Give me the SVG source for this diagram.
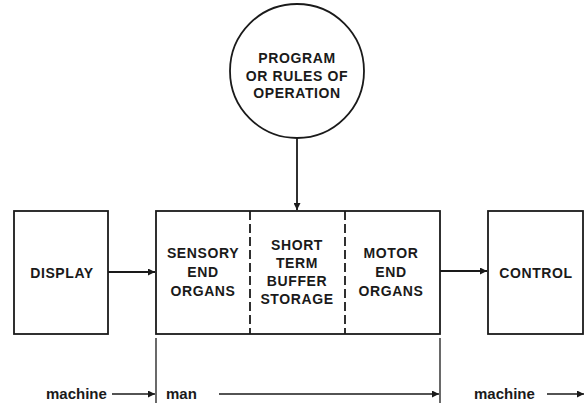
<svg xmlns="http://www.w3.org/2000/svg" width="587" height="403" viewBox="0 0 587 403">
<style>
.ln{stroke:#1a1a1a;stroke-width:1.8;fill:none}
.th{stroke:#1a1a1a;stroke-width:1.3;fill:none}
.dash{stroke:#1a1a1a;stroke-width:1.8;stroke-dasharray:9 4;fill:none}
.t{font-family:"Liberation Sans",Arial,sans-serif;font-weight:bold;font-size:14px;fill:#1a1a1a;text-anchor:middle;letter-spacing:0.6px}
.lo{font-family:"Liberation Sans",Arial,sans-serif;font-weight:bold;font-size:15px;fill:#1a1a1a}
</style>
<defs>
<marker id="ah" viewBox="0 0 10 10" refX="10" refY="5" markerWidth="7" markerHeight="7" markerUnits="userSpaceOnUse" orient="auto">
<path d="M0,0 L10,5 L0,10 z" fill="#1a1a1a"/>
</marker>
</defs>
<rect width="587" height="403" fill="#fff"/>
<g id="program">
<circle class="ln" cx="297" cy="71" r="67"/>
<text class="t" x="297" y="63">PROGRAM</text>
<text class="t" x="297" y="81">OR RULES OF</text>
<text class="t" x="297" y="98">OPERATION</text>
</g>
<g id="display">
<rect class="ln" x="14" y="211" width="94" height="123"/>
<text class="t" x="62" y="278">DISPLAY</text>
</g>
<g id="man">
<rect class="ln" x="156" y="211" width="284" height="123"/>
<line class="dash" x1="250" y1="211" x2="250" y2="334"/>
<line class="dash" x1="345" y1="211" x2="345" y2="334"/>
</g>
<g id="sensory">
<text class="t" x="203" y="258">SENSORY</text>
<text class="t" x="203" y="277">END</text>
<text class="t" x="203" y="296">ORGANS</text>
</g>
<g id="buffer">
<text class="t" x="297" y="250">SHORT</text>
<text class="t" x="297" y="268">TERM</text>
<text class="t" x="297" y="286">BUFFER</text>
<text class="t" x="297" y="304">STORAGE</text>
</g>
<g id="motor">
<text class="t" x="391" y="258">MOTOR</text>
<text class="t" x="391" y="277">END</text>
<text class="t" x="391" y="296">ORGANS</text>
</g>
<g id="control">
<rect class="ln" x="488" y="211" width="95" height="123"/>
<text class="t" x="536" y="278">CONTROL</text>
</g>
<g id="connectors">
<line class="ln" x1="297" y1="138" x2="297" y2="210" marker-end="url(#ah)"/>
<line class="ln" x1="108" y1="272" x2="155" y2="272" marker-end="url(#ah)"/>
<line class="ln" x1="440" y1="271" x2="487" y2="271" marker-end="url(#ah)"/>
<line class="th" x1="156" y1="338" x2="156" y2="403"/>
<line class="th" x1="440" y1="338" x2="440" y2="403"/>
<line class="th" x1="112" y1="394" x2="155" y2="394" marker-end="url(#ah)"/>
<line class="th" x1="219" y1="394" x2="439" y2="394" marker-end="url(#ah)"/>
<line class="th" x1="547" y1="394" x2="584" y2="394" marker-end="url(#ah)"/>
</g>
<g id="labels">
<text class="lo" x="46" y="399">machine</text>
<text class="lo" x="166" y="399">man</text>
<text class="lo" x="474" y="399">machine</text>
</g>
</svg>
